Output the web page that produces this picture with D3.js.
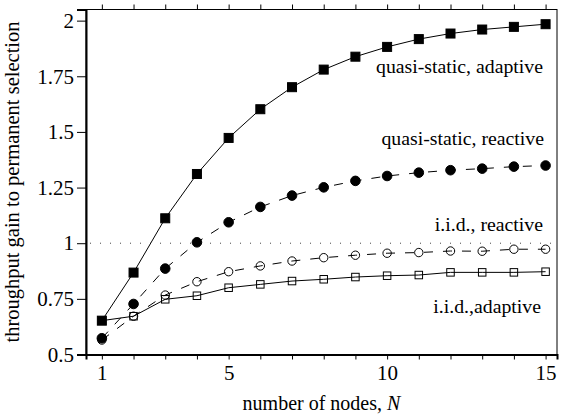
<!DOCTYPE html>
<html>
<head>
<meta charset="utf-8">
<script src="https://cdn.jsdelivr.net/npm/d3@7"></script>
<style>
  body { margin: 0; background: #fff; }
</style>
</head>
<body>
<script>
// values
const nodes = d3.range(1, 16);
const qsAdaptive = [0.652, 0.868, 1.112, 1.311, 1.473, 1.602, 1.701, 1.780, 1.838, 1.882, 1.917, 1.942, 1.960, 1.972, 1.984];
const qsReactive = [0.573, 0.727, 0.886, 1.004, 1.094, 1.163, 1.214, 1.251, 1.280, 1.302, 1.317, 1.328, 1.335, 1.344, 1.349];
const iidReactive = [0.565, 0.672, 0.767, 0.827, 0.872, 0.898, 0.920, 0.935, 0.946, 0.955, 0.958, 0.965, 0.964, 0.973, 0.973];
const iidAdaptive = [0.652, 0.672, 0.748, 0.764, 0.800, 0.815, 0.830, 0.838, 0.848, 0.854, 0.857, 0.869, 0.869, 0.869, 0.872];
const yTicks = [0.5, 0.75, 1, 1.25, 1.5, 1.75, 2];
const xLabels = [1, 5, 10, 15];

const w = 562, h = 419;
const m = { left: 86, top: 9.5, right: 5, bottom: 64.5 };
const serif = '"Liberation Serif", "Times New Roman", Times, serif';

const svg = d3.select("body").append("svg")
  .attr("width", w)
  .attr("height", h);

const x = d3.scaleLinear().domain([0.5, 15.36]).range([m.left, w - m.right]);
const y = d3.scaleLinear().domain([0.5, 2.05]).range([h - m.bottom, m.top]);

// frame: top and right thin
svg.append("rect")
  .attr("x", x.range()[0]).attr("y", y.range()[1])
  .attr("width", x.range()[1] - x.range()[0])
  .attr("height", y.range()[0] - y.range()[1])
  .attr("fill", "none").attr("stroke", "#000").attr("stroke-width", 1);

// bottom axis
const xAxis = svg.append("g")
  .attr("transform", `translate(0,${y(0.5)})`)
  .call(d3.axisBottom(x).tickValues(nodes).tickSize(5).tickPadding(4)
    .tickFormat(d => xLabels.includes(d) ? d : ""));
xAxis.select(".domain").attr("stroke-width", 2);

// top ticks
const xTop = svg.append("g")
  .attr("transform", `translate(0,${y.range()[1]})`)
  .call(d3.axisTop(x).tickValues(nodes).tickSize(5).tickFormat(""));
xTop.select(".domain").remove();

// left axis
const yAxis = svg.append("g")
  .attr("transform", `translate(${x(0.5)},0)`)
  .call(d3.axisLeft(y).tickValues(yTicks).tickSize(9).tickPadding(3)
    .tickFormat(d3.format("")));
yAxis.select(".domain").attr("stroke-width", 2);

svg.selectAll("g").attr("font-family", null);
svg.selectAll(".tick text")
  .style("font-family", serif)
  .style("font-size", "21px")
  .attr("fill", "#000");
xAxis.selectAll(".tick text").attr("dy", "0.8em");

// reference line at 1
svg.append("line")
  .attr("x1", x(0.5) + 4).attr("x2", x.range()[1])
  .attr("y1", y(1)).attr("y2", y(1))
  .attr("stroke", "#444").attr("stroke-width", 1)
  .attr("stroke-dasharray", "1,9");

const series = [
  { values: qsAdaptive, dash: null, marker: "square", filled: true },
  { values: qsReactive, dash: "9,10", marker: "circle", filled: true },
  { values: iidReactive, dash: "9,10", marker: "circle", filled: false },
  { values: iidAdaptive, dash: null, marker: "square", filled: false }
];

const line = d3.line().x((d, i) => x(nodes[i])).y(d => y(d));

series.forEach(s => {
  svg.append("path")
    .attr("d", line(s.values))
    .attr("fill", "none")
    .attr("stroke", "#000")
    .attr("stroke-width", 1)
    .attr("stroke-dasharray", s.dash);
});

series.forEach(s => {
  const g = svg.append("g");
  if (s.marker === "square") {
    const size = s.filled ? 9 : 7.5;
    g.selectAll("rect").data(s.values).enter().append("rect")
      .attr("x", (d, i) => x(nodes[i]) - size / 2)
      .attr("y", d => y(d) - size / 2)
      .attr("width", size).attr("height", size)
      .attr("fill", s.filled ? "#000" : "none")
      .attr("stroke", "#000").attr("stroke-width", 1);
  } else {
    g.selectAll("circle").data(s.values).enter().append("circle")
      .attr("cx", (d, i) => x(nodes[i]))
      .attr("cy", d => y(d))
      .attr("r", s.filled ? 4.8 : 4.2)
      .attr("fill", s.filled ? "#000" : "none")
      .attr("stroke", "#000").attr("stroke-width", 1);
  }
});

// curve labels
const labels = [
  { text: "quasi-static, adaptive", x: 543, y: 73 },
  { text: "quasi-static, reactive", x: 544, y: 145 },
  { text: "i.i.d., reactive", x: 543, y: 231 },
  { text: "i.i.d.,adaptive", x: 541, y: 313 }
];
svg.selectAll(".curve-label").data(labels).enter().append("text")
  .attr("class", "curve-label")
  .attr("x", d => d.x).attr("y", d => d.y)
  .attr("text-anchor", "end")
  .style("font-family", serif)
  .style("font-size", "19.8px")
  .text(d => d.text);

// axis titles
const xt = svg.append("text")
  .attr("x", (x.range()[0] + x.range()[1]) / 2)
  .attr("y", 410)
  .attr("text-anchor", "middle")
  .style("font-family", serif)
  .style("font-size", "20px");
xt.append("tspan").text("number of nodes, ");
xt.append("tspan").attr("font-style", "italic").text("N");

svg.append("text")
  .attr("transform", `translate(19,${(y.range()[0] + y.range()[1]) / 2}) rotate(-90)`)
  .attr("text-anchor", "middle")
  .style("font-family", serif)
  .style("font-size", "20.5px")
  .text("throughput gain to permanent selection");
</script>
</body>
</html>
